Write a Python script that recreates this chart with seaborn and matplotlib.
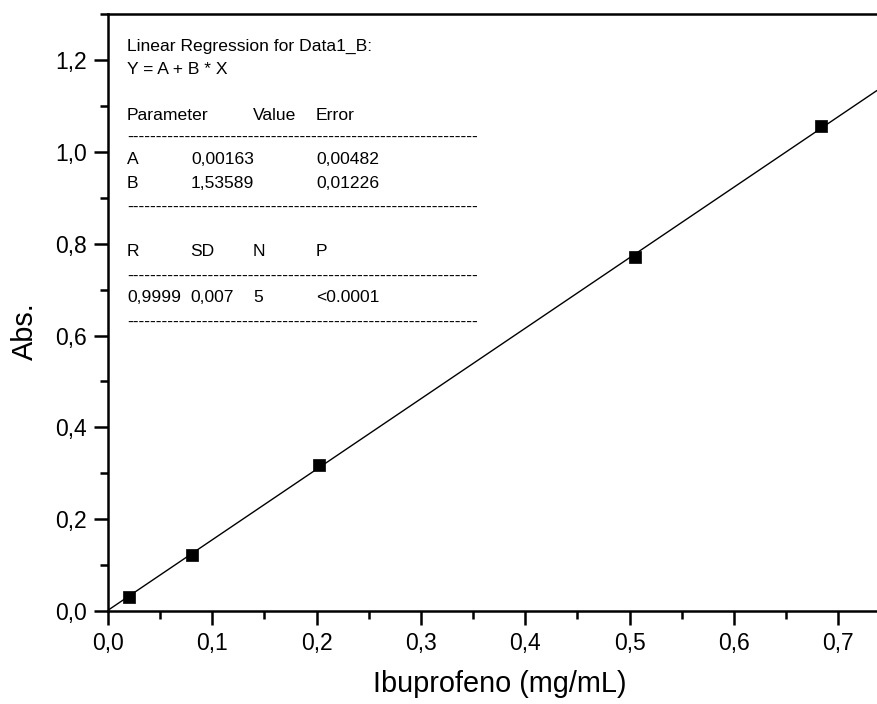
import numpy as np
import pandas as pd
import matplotlib
matplotlib.use("Agg")
import matplotlib.pyplot as plt
import seaborn as sns
from matplotlib.ticker import MultipleLocator, FuncFormatter

conc = [0.020, 0.081, 0.202, 0.505, 0.684]
absorb = [0.031, 0.123, 0.318, 0.771, 1.057]
fit_A = 0.00163
fit_B = 1.53589

sns.set_theme(style="white")
plt.rcParams['font.family'] = ['Liberation Sans', 'DejaVu Sans']
plt.rcParams['text.color'] = 'black'
plt.rcParams['axes.labelcolor'] = 'black'

W, H = 877, 704
fig = plt.figure(figsize=(W / 100, H / 100), dpi=100)
left, right, top, bottom = 108, 877, 14, 611
ax = fig.add_axes([left / W, 1 - bottom / H, (right - left) / W, (bottom - top) / H])

xmax = (right - left) / 1043.0
ymax = (bottom - top) / 459.0

xs = np.array([0.0, xmax])
fit_df = pd.DataFrame({"x": xs, "y": fit_A + fit_B * xs})
sns.lineplot(data=fit_df, x="x", y="y", ax=ax, color="black", linewidth=1.0)

df = pd.DataFrame({"x": conc, "y": absorb})
sns.scatterplot(data=df, x="x", y="y", ax=ax, marker="s", color="black",
                s=80, edgecolor="black", linewidth=0.5, zorder=3)

ax.set_xlim(0, xmax)
ax.set_ylim(0, ymax)
ax.xaxis.set_major_locator(MultipleLocator(0.1))
ax.xaxis.set_minor_locator(MultipleLocator(0.05))
ax.yaxis.set_major_locator(MultipleLocator(0.2))
ax.yaxis.set_minor_locator(MultipleLocator(0.1))
fmt = FuncFormatter(lambda v, p: f"{v:.1f}".replace(".", ","))
ax.xaxis.set_major_formatter(fmt)
ax.yaxis.set_major_formatter(fmt)
ax.tick_params(which="major", direction="out", length=10, width=1.8, labelsize=16.5,
               bottom=True, left=True, pad=5, colors="black")
ax.tick_params(which="minor", direction="out", length=6, width=1.8,
               bottom=True, left=True, colors="black")
for s in ["left", "bottom", "top"]:
    ax.spines[s].set_linewidth(1.8)
    ax.spines[s].set_color("black")
ax.spines["right"].set_visible(False)

ax.set_xlabel("Ibuprofeno (mg/mL)", fontsize=20.8, color="black")
ax.set_ylabel("Abs.", fontsize=20.8, color="black")
ax.xaxis.set_label_coords(0.51, -0.099)
ax.yaxis.set_label_coords(-0.09, 0.469)

def t(x, y, s):
    fig.text(x / W, 1 - y / H, s, fontsize=12.6, va="center", ha="left", color="black")

t(127, 46, "Linear Regression for Data1_B:")
t(127, 69, "Y = A + B * X")
t(127, 115, "Parameter")
t(253, 115, "Value")
t(316, 115, "Error")
dash = "-" * 61
t(127, 137, dash)
t(127, 160, "A")
t(191, 160, "0,00163")
t(316, 160, "0,00482")
t(127, 183, "B")
t(191, 183, "1,53589")
t(316, 183, "0,01226")
t(127, 207, dash)
t(127, 252, "R")
t(190, 252, "SD")
t(253, 252, "N")
t(316, 252, "P")
t(127, 276, dash)
t(127, 298, "0,9999")
t(190, 298, "0,007")
t(253, 298, "5")
t(316, 298, "<0.0001")
t(127, 322, dash)

fig.savefig("out.png", dpi=100)
